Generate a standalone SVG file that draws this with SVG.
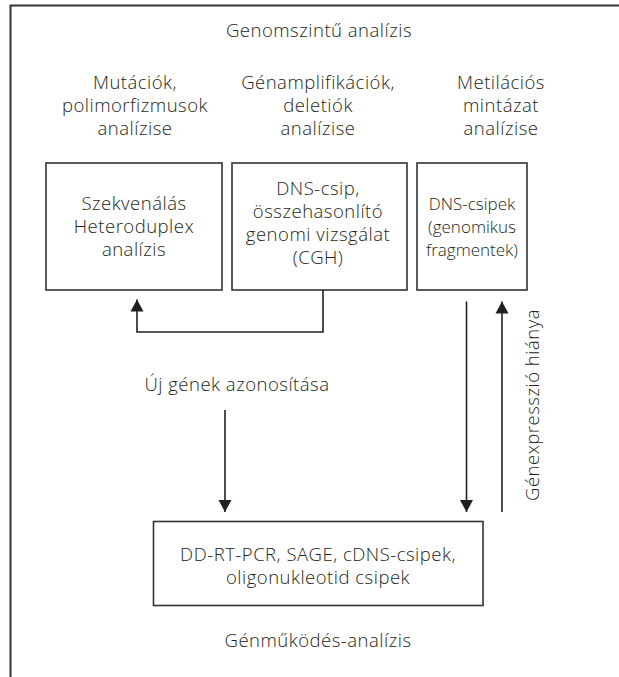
<svg xmlns="http://www.w3.org/2000/svg" width="619" height="677" viewBox="0 0 619 677">
<defs>
<style>
text{font-family:"Open Sans","Liberation Sans",sans-serif;font-size:18.5px;font-weight:350;letter-spacing:0.5px;fill:#231f20;text-anchor:middle}
.sm{font-size:17px;letter-spacing:0}
.box{fill:#fff;stroke:#333;stroke-width:1.6}
.frame{fill:none;stroke:#333;stroke-width:2}
.conn{fill:none;stroke:#231f20;stroke-width:1.6}
</style>
<marker id="ah" markerUnits="userSpaceOnUse" markerWidth="13" markerHeight="14" refX="12" refY="6.5" orient="auto" viewBox="0 0 13 13">
<path d="M0,0 L12,6.5 L0,13 Z" fill="#231f20"/>
</marker>
</defs>
<rect width="619" height="677" fill="#fff"/>
<g id="frame">
<path class="frame" d="M619,5.5 H10.5 V677"/>
</g>
<g id="title-top"><text x="319" y="37">Genomszintű analízis</text></g>
<g id="header-1"><text x="135" y="89">Mutációk,</text><text x="135" y="112">polimorfizmusok</text><text x="135" y="135">analízise</text></g>
<g id="header-2"><text x="318" y="89">Génamplifikációk,</text><text x="318" y="112">deletiók</text><text x="318" y="135">analízise</text></g>
<g id="header-3"><text x="501" y="89">Metilációs</text><text x="501" y="112">mintázat</text><text x="501" y="135">analízise</text></g>
<g id="box-1"><rect class="box" x="46" y="163" width="176" height="127"/><text x="134" y="210">Szekvenálás</text><text x="134" y="233">Heteroduplex</text><text x="134" y="256">analízis</text></g>
<g id="box-2"><rect class="box" x="232" y="163" width="175" height="127"/><text x="318" y="195">DNS-csip,</text><text x="318" y="218">összehasonlító</text><text x="318" y="241">genomi vizsgálat</text><text x="318" y="264">(CGH)</text></g>
<g id="box-3"><rect class="box" x="417" y="163" width="110" height="127"/><text class="sm" x="472" y="210">DNS-csipek</text><text class="sm" x="472" y="233">(genomikus</text><text class="sm" x="472" y="256">fragmentek)</text></g>
<g id="box-bottom"><rect class="box" x="153.5" y="521.5" width="329.5" height="84"/><text x="318" y="560.5">DD-RT-PCR, SAGE, cDNS-csipek,</text><text x="318" y="584">oligonukleotid csipek</text></g>
<g id="label-uj"><text x="237" y="391">Új gének azonosítása</text></g>
<g id="label-genexp"><text transform="translate(539,405) rotate(-90)" x="0" y="0">Génexpresszió hiánya</text></g>
<g id="title-bottom"><text x="318" y="647">Génműködés-analízis</text></g>
<g id="connectors">
<path class="conn" d="M323,290 V332 H137 V299.5" marker-end="url(#ah)"/>
<path class="conn" d="M225,410 V512" marker-end="url(#ah)"/>
<path class="conn" d="M466.5,301.5 V512" marker-end="url(#ah)"/>
<path class="conn" d="M502,512 V301.5" marker-end="url(#ah)"/>
</g>
</svg>
